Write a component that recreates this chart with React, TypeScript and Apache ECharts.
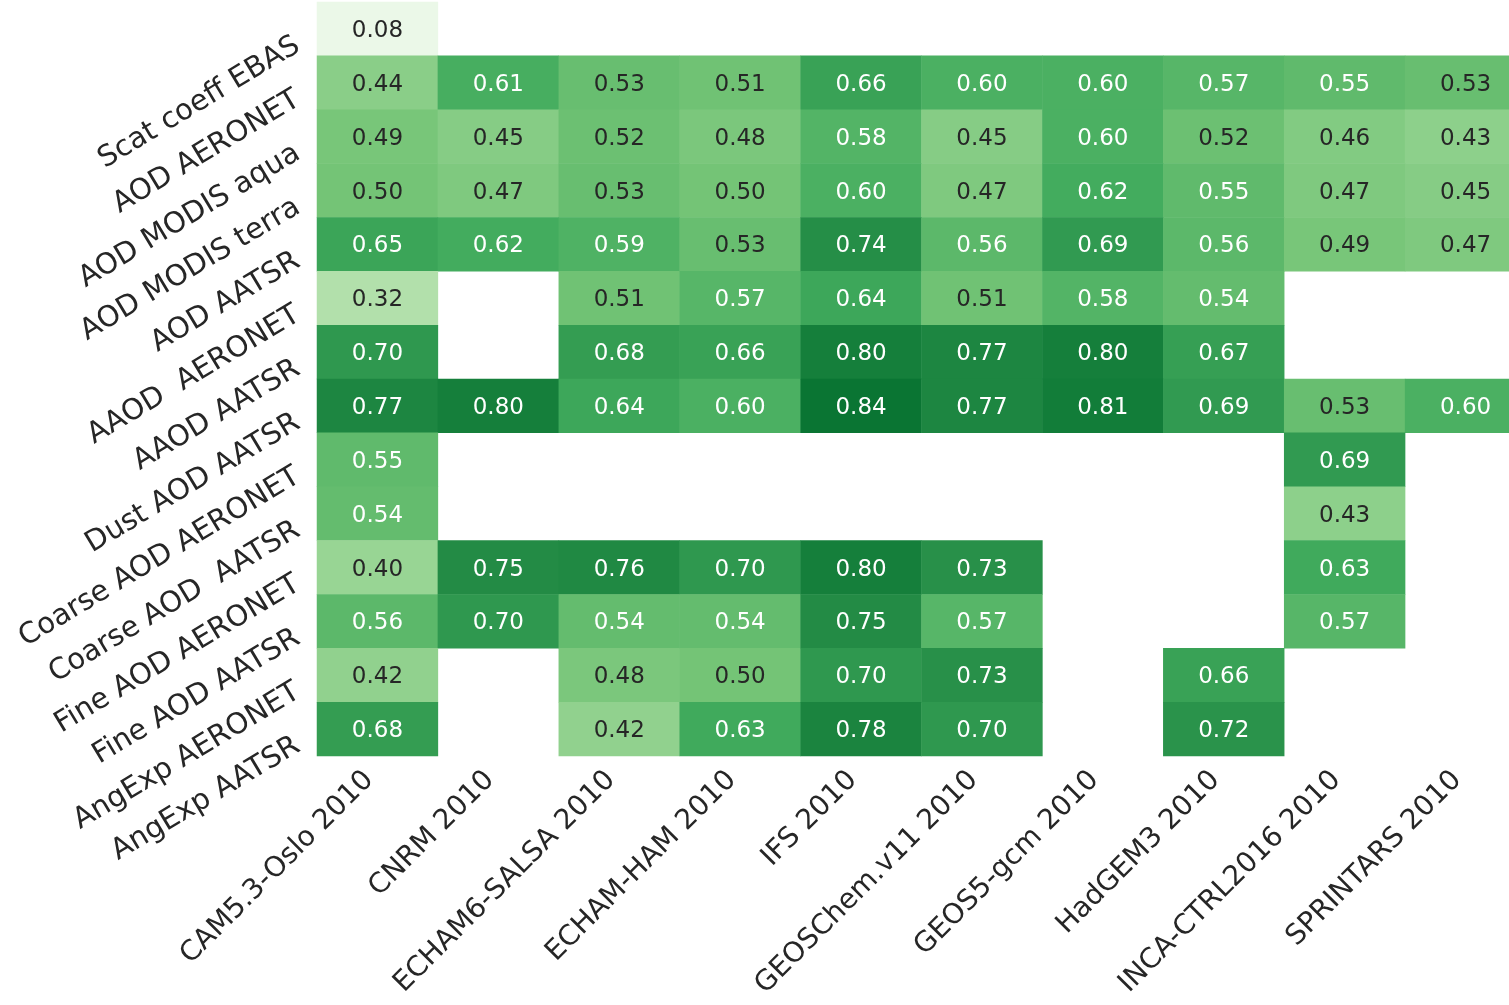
import React, { useEffect, useRef } from 'react';
import * as echarts from 'echarts';

const models = [
  'CAM5.3-Oslo 2010',
  'CNRM 2010',
  'ECHAM6-SALSA 2010',
  'ECHAM-HAM 2010',
  'IFS 2010',
  'GEOSChem.v11 2010',
  'GEOS5-gcm 2010',
  'HadGEM3 2010',
  'INCA-CTRL2016 2010',
  'SPRINTARS 2010',
];

const observations = [
  'Scat coeff EBAS',
  'AOD AERONET',
  'AOD MODIS aqua',
  'AOD MODIS terra',
  'AOD AATSR',
  'AAOD  AERONET',
  'AAOD AATSR',
  'Dust AOD AATSR',
  'Coarse AOD AERONET',
  'Coarse AOD  AATSR',
  'Fine AOD AERONET',
  'Fine AOD AATSR',
  'AngExp AERONET',
  'AngExp AATSR',
];

const N = null;
const scatCoeffEBAS = [0.08, N, N, N, N, N, N, N, N, N];
const aodAeronet = [0.44, 0.61, 0.53, 0.51, 0.66, 0.6, 0.6, 0.57, 0.55, 0.53];
const aodModisAqua = [0.49, 0.45, 0.52, 0.48, 0.58, 0.45, 0.6, 0.52, 0.46, 0.43];
const aodModisTerra = [0.5, 0.47, 0.53, 0.5, 0.6, 0.47, 0.62, 0.55, 0.47, 0.45];
const aodAatsr = [0.65, 0.62, 0.59, 0.53, 0.74, 0.56, 0.69, 0.56, 0.49, 0.47];
const aaodAeronet = [0.32, N, 0.51, 0.57, 0.64, 0.51, 0.58, 0.54, N, N];
const aaodAatsr = [0.7, N, 0.68, 0.66, 0.8, 0.77, 0.8, 0.67, N, N];
const dustAodAatsr = [0.77, 0.8, 0.64, 0.6, 0.84, 0.77, 0.81, 0.69, 0.53, 0.6];
const coarseAodAeronet = [0.55, N, N, N, N, N, N, N, 0.69, N];
const coarseAodAatsr = [0.54, N, N, N, N, N, N, N, 0.43, N];
const fineAodAeronet = [0.4, 0.75, 0.76, 0.7, 0.8, 0.73, N, N, 0.63, N];
const fineAodAatsr = [0.56, 0.7, 0.54, 0.54, 0.75, 0.57, N, N, 0.57, N];
const angExpAeronet = [0.42, N, 0.48, 0.5, 0.7, 0.73, N, 0.66, N, N];
const angExpAatsr = [0.68, N, 0.42, 0.63, 0.78, 0.7, N, 0.72, N, N];

const matrix = [
  scatCoeffEBAS,
  aodAeronet,
  aodModisAqua,
  aodModisTerra,
  aodAatsr,
  aaodAeronet,
  aaodAatsr,
  dustAodAatsr,
  coarseAodAeronet,
  coarseAodAatsr,
  fineAodAeronet,
  fineAodAatsr,
  angExpAeronet,
  angExpAatsr,
];

const greens = [
  '#f7fcf5',
  '#e5f5e0',
  '#c7e9c0',
  '#a1d99b',
  '#74c476',
  '#41ab5d',
  '#238b45',
  '#006d2c',
  '#00441b',
];

const FONT = "'DejaVu Sans', sans-serif";
const DARK = '#262626';

export default function App() {
  const ref = useRef<HTMLDivElement>(null);
  useEffect(() => {
    const chart = echarts.init(ref.current as HTMLDivElement, null, { renderer: 'svg' });
    const data: any[] = [];
    matrix.forEach((row, y) =>
      row.forEach((v, x) => {
        if (v != null) {
          data.push({
            value: [x, y, v],
            label: { color: v >= 0.535 ? '#ffffff' : DARK },
          });
        }
      })
    );
    chart.setOption({
      animation: false,
      textStyle: { fontFamily: FONT },
      grid: {
        left: 317,
        top: 2,
        width: 1209,
        height: 754,
        outerBoundsMode: 'none',
        containLabel: false,
      },
      xAxis: {
        type: 'category',
        data: models,
        axisLine: { show: false },
        axisTick: { show: false },
        splitLine: { show: false },
        splitArea: { show: false },
        axisLabel: {
          interval: 0,
          rotate: 45,
          fontSize: 28,
          fontFamily: FONT,
          color: DARK,
          margin: 28,
          verticalAlign: 'bottom',
        },
      },
      yAxis: {
        type: 'category',
        data: observations,
        inverse: true,
        axisLine: { show: false },
        axisTick: { show: false },
        splitLine: { show: false },
        splitArea: { show: false },
        axisLabel: {
          interval: 0,
          rotate: 31,
          fontSize: 29,
          fontFamily: FONT,
          color: DARK,
          margin: 28,
          verticalAlign: 'top',
        },
      },
      visualMap: {
        show: false,
        min: 0,
        max: 1,
        dimension: 2,
        inRange: { color: greens },
      },
      series: [
        {
          type: 'heatmap',
          data,
          itemStyle: { borderWidth: 0 },
          emphasis: { disabled: true },
          label: {
            show: true,
            fontSize: 23,
            fontFamily: FONT,
            formatter: (p: any) => p.value[2].toFixed(2),
          },
        },
      ],
    });
    return () => chart.dispose();
  }, []);
  return (
    <div
      ref={ref}
      style={{ position: 'fixed', left: 0, top: 0, width: 1509, height: 1005 }}
    />
  );
}
